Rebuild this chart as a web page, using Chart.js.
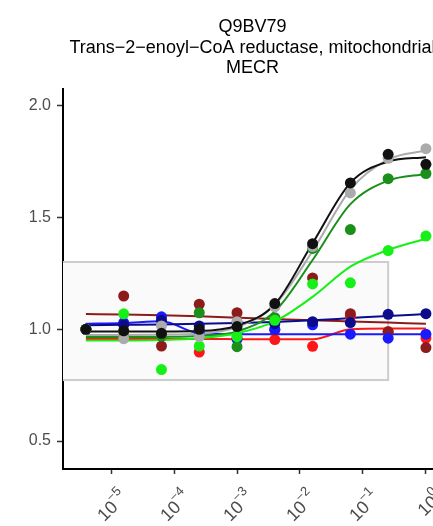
<!DOCTYPE html>
<html>
<head>
<meta charset="utf-8">
<script src="https://cdn.jsdelivr.net/npm/chart.js"></script>
<style>
  html, body { margin: 0; padding: 0; background: #ffffff; overflow: hidden; }
  #wrap { width: 505px; height: 526px; }
</style>
</head>
<body>
<div id="wrap"><canvas id="myChart" width="505" height="526"></canvas></div>
<script>
// concentrations (log spaced, 0.6 decade steps)
const doses = [3.98e-6, 1.585e-5, 6.31e-5, 2.512e-4, 1.0e-3, 3.981e-3, 1.585e-2, 6.31e-2, 0.2512, 1.0];

const titleLines = ['Q9BV79', 'Trans−2−enoyl−CoA reductase, mitochondrial', 'MECR'];
const xTicks = [1e-5, 1e-4, 1e-3, 1e-2, 1e-1, 1];
const xTickExponents = ['−5', '−4', '−3', '−2', '−1', '0'];
const yTicks = [0.5, 1.0, 1.5, 2.0];

// shaded band (x runs from the left edge to this dose)
const bandX = [null, 0.2512];
const bandY = [0.773, 1.301];

// measured points, one per dose
const redPoints        = [1.0, 0.96, 0.975, 0.898, 0.96, 0.954, 0.924, 1.06, 0.99, 0.961];
const darkredPoints    = [1.0, 1.149, 0.925, 1.112, 1.074, 0.997, 1.23, 1.07, 0.988, 0.918];
const bluePoints       = [1.0, 1.03, 1.056, 0.99, 0.955, 1.0, 1.02, 0.978, 0.96, 0.978];
const navyPoints       = [1.0, 1.02, 1.04, 1.015, 1.03, 1.025, 1.034, 1.03, 1.067, 1.07];
const darkgreenPoints  = [1.0, 0.99, 0.97, 1.074, 0.922, 1.052, 1.362, 1.446, 1.674, 1.697];
const limePoints       = [1.0, 1.069, 0.82, 0.925, 0.967, 1.04, 1.203, 1.208, 1.352, 1.417];
const grayPoints       = [1.0, 0.958, 1.015, 0.967, 1.034, 1.10, 1.37, 1.61, 1.765, 1.808];
const blackPoints      = [1.0, 0.993, 0.982, 1.0, 1.012, 1.115, 1.383, 1.655, 1.783, 1.738];

// fitted curves, read at the same doses
const redFit        = [0.957, 0.957, 0.957, 0.957, 0.956, 0.955, 0.955, 1.0, 1.004, 1.004];
const darkredFit    = [1.068, 1.066, 1.063, 1.058, 1.052, 1.046, 1.04, 1.035, 1.03, 1.025];
const blueFit       = [1.025, 1.028, 1.036, 0.982, 0.978, 0.978, 0.978, 0.978, 0.978, 0.978];
const navyFit       = [1.018, 1.02, 1.022, 1.025, 1.028, 1.033, 1.04, 1.05, 1.06, 1.068];
const darkgreenFit  = [0.965, 0.965, 0.966, 0.97, 0.99, 1.08, 1.31, 1.56, 1.665, 1.695];
const limeFit       = [0.95, 0.95, 0.952, 0.96, 0.982, 1.035, 1.145, 1.28, 1.355, 1.405];
const grayFit       = [0.975, 0.975, 0.976, 0.98, 1.01, 1.11, 1.35, 1.625, 1.76, 1.80];
const blackFit      = [0.99, 0.99, 0.99, 0.992, 1.016, 1.112, 1.385, 1.655, 1.75, 1.77];

// bottom -> top drawing order
const groups = [
  { pts: redPoints,       fit: redFit,       color: '#FF1616' },
  { pts: darkredPoints,   fit: darkredFit,   color: '#8E1B1B' },
  { pts: bluePoints,      fit: blueFit,      color: '#1A1AFF' },
  { pts: navyPoints,      fit: navyFit,      color: '#0B0B8C' },
  { pts: darkgreenPoints, fit: darkgreenFit, color: '#1A8F1A' },
  { pts: limePoints,      fit: limeFit,      color: '#16F016' },
  { pts: grayPoints,      fit: grayFit,      color: '#ABABAB' },
  { pts: blackPoints,     fit: blackFit,     color: '#111111' }
];

const toXY = arr => arr.map((v, i) => ({ x: doses[i], y: v }));

const datasets = [];
groups.forEach(g => {
  datasets.push({
    type: 'line',
    data: toXY(g.fit),
    borderColor: g.color,
    borderWidth: 2,
    pointRadius: 0,
    fill: false,
    showLine: true,
    cubicInterpolationMode: 'monotone'
  });
});
groups.forEach(g => {
  datasets.push({
    type: 'scatter',
    data: toXY(g.pts),
    backgroundColor: g.color,
    borderWidth: 0,
    pointRadius: 5.5,
    pointHoverRadius: 5.5,
    showLine: false
  });
});
// later in the list = drawn on top
datasets.forEach((d, i) => { d.order = datasets.length - i; });

const bandPlugin = {
  id: 'band',
  beforeDatasetsDraw(chart) {
    const { ctx, chartArea, scales } = chart;
    const x0 = bandX[0] === null ? chartArea.left - 10 : scales.x.getPixelForValue(bandX[0]);
    const x1 = scales.x.getPixelForValue(bandX[1]);
    const y0 = scales.y.getPixelForValue(bandY[1]);
    const y1 = scales.y.getPixelForValue(bandY[0]);
    ctx.save();
    ctx.beginPath();
    ctx.rect(chartArea.left, chartArea.top, chartArea.right - chartArea.left, chartArea.bottom - chartArea.top);
    ctx.clip();
    ctx.fillStyle = '#FAFAFA';
    ctx.fillRect(x0, y0, x1 - x0, y1 - y0);
    ctx.strokeStyle = '#CCCCCC';
    ctx.lineWidth = 2;
    ctx.strokeRect(x0, y0, x1 - x0, y1 - y0);
    ctx.restore();
  }
};

// title centred over the panel, and 10^n tick labels with real superscripts
const textPlugin = {
  id: 'texts',
  afterDraw(chart) {
    const { ctx, chartArea, scales } = chart;
    ctx.save();
    ctx.fillStyle = '#000000';
    ctx.font = '18px "Liberation Sans", Arial, sans-serif';
    ctx.textAlign = 'center';
    ctx.textBaseline = 'alphabetic';
    const cx = (chartArea.left + chartArea.right) / 2;
    titleLines.forEach((t, i) => ctx.fillText(t, cx, 32 + i * 20.5));

    ctx.fillStyle = '#4D4D4D';
    ctx.textAlign = 'left';
    const baseFont = '18px "Liberation Sans", Arial, sans-serif';
    const supFont = '13px "Liberation Sans", Arial, sans-serif';
    xTicks.forEach((v, i) => {
      const px = scales.x.getPixelForValue(v);
      const base = '10', sup = xTickExponents[i];
      ctx.font = baseFont;
      const wBase = ctx.measureText(base).width;
      ctx.font = supFont;
      const wSup = ctx.measureText(sup).width;
      const w = wBase + wSup - 1;
      ctx.save();
      ctx.translate(px + 4, chartArea.bottom + 16);
      ctx.rotate(-Math.PI / 4);
      ctx.font = baseFont;
      ctx.fillText(base, -w, 19);
      ctx.font = supFont;
      ctx.fillText(sup, -wSup, 9.5);
      ctx.restore();
    });
    ctx.restore();
  }
};

const ctx = document.getElementById('myChart').getContext('2d');
new Chart(ctx, {
  type: 'scatter',
  data: { datasets: datasets },
  plugins: [bandPlugin, textPlugin],
  options: {
    responsive: false,
    maintainAspectRatio: false,
    devicePixelRatio: 1,
    animation: false,
    layout: { padding: { left: 0, right: 63, top: 89, bottom: 0 } },
    plugins: {
      legend: { display: false },
      tooltip: { enabled: false },
      title: { display: false }
    },
    scales: {
      x: {
        type: 'logarithmic',
        min: 1.722e-6,
        max: 1.80,
        afterBuildTicks: scale => { scale.ticks = xTicks.map(v => ({ value: v })); },
        afterFit: scale => { scale.height = 57; },
        grid: { display: true, drawOnChartArea: false, drawTicks: true, tickLength: 5, tickColor: '#333333', tickWidth: 1.5 },
        border: { display: true, color: '#000000', width: 2 },
        ticks: { display: false, autoSkip: false }
      },
      y: {
        min: 0.375,
        max: 2.075,
        afterBuildTicks: scale => { scale.ticks = yTicks.map(v => ({ value: v })); },
        afterFit: scale => { scale.width = 63; },
        grid: { display: true, drawOnChartArea: false, drawTicks: true, tickLength: 6, tickColor: '#333333', tickWidth: 1.5 },
        border: { display: true, color: '#000000', width: 2 },
        ticks: {
          padding: 6,
          color: '#4D4D4D',
          font: { family: 'Liberation Sans', size: 16 },
          callback: v => v.toFixed(1)
        }
      }
    }
  }
});
</script>
</body>
</html>
